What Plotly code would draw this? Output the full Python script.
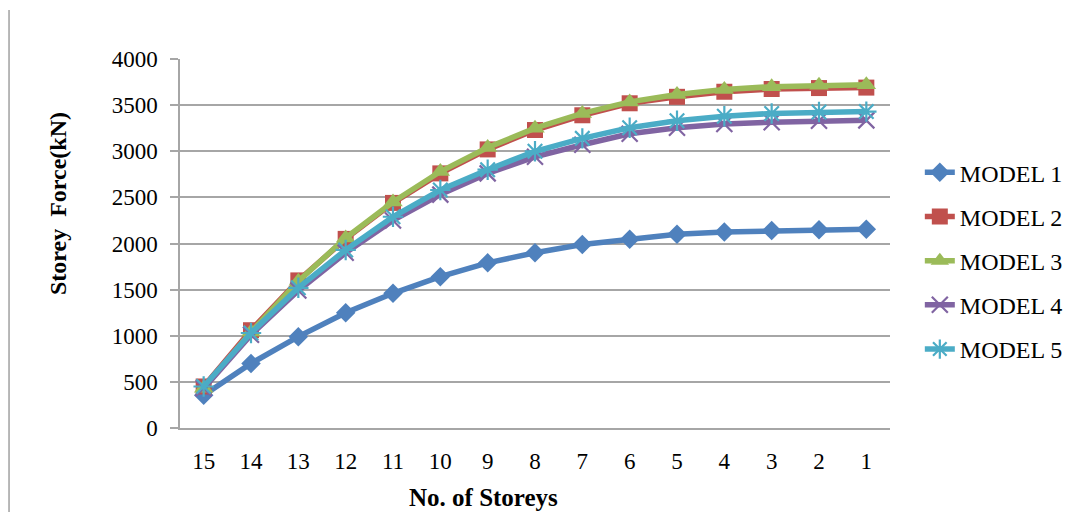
import plotly.graph_objects as go

storeys = ["15", "14", "13", "12", "11", "10", "9", "8", "7", "6", "5", "4", "3", "2", "1"]
model1 = [355, 700, 990, 1250, 1460, 1640, 1790, 1900, 1990, 2045, 2100, 2125, 2140, 2150, 2155]
model2 = [450, 1060, 1600, 2050, 2440, 2760, 3020, 3230, 3390, 3520, 3590, 3645, 3675, 3685, 3690]
model3 = [430, 1040, 1590, 2060, 2450, 2780, 3040, 3250, 3410, 3535, 3615, 3670, 3700, 3715, 3720]
model4 = [430, 1010, 1490, 1900, 2250, 2530, 2760, 2940, 3070, 3190, 3255, 3295, 3315, 3330, 3335]
model5 = [450, 1030, 1520, 1930, 2290, 2580, 2800, 3000, 3140, 3255, 3330, 3380, 3410, 3425, 3430]

names = ["MODEL 1", "MODEL 2", "MODEL 3", "MODEL 4", "MODEL 5"]
series = [model1, model2, model3, model4, model5]
colors = ["#4F81BD", "#C0504D", "#9BBB59", "#8064A2", "#4BACC6"]
symbols = ["diamond", "square", "triangle-up", "x-thin-open", "asterisk-open"]
msizes = [15, 16, 17, 16, 17]

FONT = "Liberation Serif"

fig = go.Figure()
for i, (n, s, c, sym, ms) in enumerate(zip(names, series, colors, symbols, msizes)):
    open_sym = sym.endswith("open")
    fig.add_trace(go.Scatter(
        x=storeys, y=s, name=n, mode="lines+markers",
        legendgroup=n,
        line=dict(color=c, width=5.5),
        marker=dict(symbol=sym, size=ms, color=c,
                    line=dict(color=c, width=2.2 if open_sym else 0)),
    ))

grid = "#A6A6A6"
fig.update_layout(
    width=1075, height=504,
    margin=dict(l=172, r=193, t=51, b=84),
    paper_bgcolor="white", plot_bgcolor="white",
    font=dict(family=FONT, size=23, color="black"),
    showlegend=True,
    legend=dict(x=1.042, xanchor="left", y=0.753, yanchor="top",
                font=dict(family=FONT, size=24, color="black"),
                tracegroupgap=10, bgcolor="rgba(0,0,0,0)"),
    xaxis=dict(type="category", range=[-0.5, 14.5], showgrid=False,
               showline=True, linecolor=grid, linewidth=1.5,
               ticks="", ticklabelstandoff=12,
               tickfont=dict(family=FONT, size=23)),
    yaxis=dict(range=[0, 4000], tickvals=list(range(0, 4001, 500)),
               showgrid=True, gridcolor=grid, gridwidth=1.5,
               showline=True, linecolor=grid, linewidth=1.5,
               ticks="outside", ticklen=8, tickcolor=grid, tickwidth=1.5,
               ticklabelstandoff=8, zeroline=False,
               tickfont=dict(family=FONT, size=23)),
    annotations=[
        dict(text="<b>Storey  Force(kN)</b>", xref="paper", yref="paper",
             x=-0.1718, y=0.607, textangle=-90, showarrow=False,
             xanchor="center", yanchor="middle",
             font=dict(family=FONT, size=24)),
        dict(text="<b>No. of Storeys</b>", xref="paper", yref="paper",
             x=0.4268, y=-0.187, showarrow=False,
             xanchor="center", yanchor="middle",
             font=dict(family=FONT, size=25)),
    ],
    shapes=[dict(type="line", xref="paper", yref="paper",
                 x0=-0.2408, x1=-0.2408, y0=-0.23, y1=1.133,
                 line=dict(color="#A0A0A0", width=1.5))],
)

fig.write_html("out.html")
